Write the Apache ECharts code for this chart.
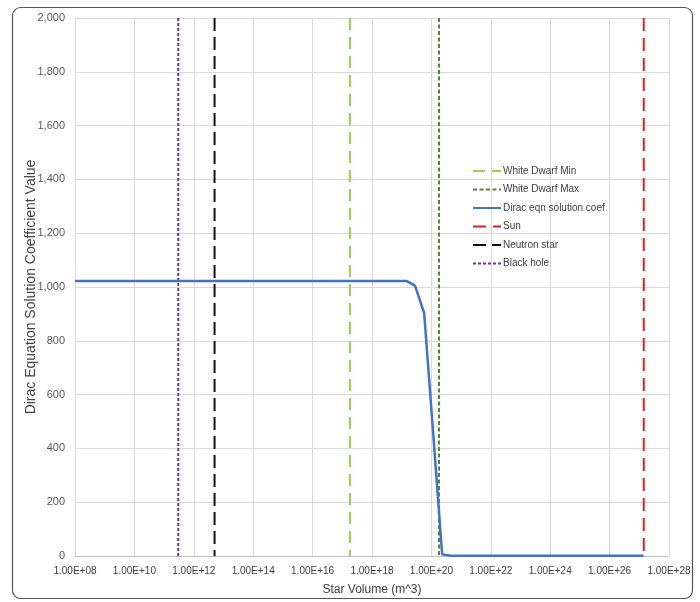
<!DOCTYPE html>
<html><head><meta charset="utf-8">
<script src="https://cdn.jsdelivr.net/npm/echarts@6/dist/echarts.min.js"></script>
<style>html,body{margin:0;padding:0;background:#fff}#c{width:700px;height:602px}</style>
</head><body><div id="c"></div>
<script>
// Dirac curve: star volume (m^3) and coefficient value
const diracVolumes = [1e8, 1.5e19, 2.8e19, 5.7e19, 1.15e20, 2.3e20, 4.6e20, 1.4e27];
const diracValues  = [1022, 1022, 1005, 904, 455, 6, 1, 1];
// Reference volumes (vertical markers)
const whiteDwarfMin = 1.8e17;
const whiteDwarfMax = 1.8e20;
const sunVolume = 1.41e27;
const neutronStarVolume = 5e12;
const blackHoleVolume = 3e11;
const yRange = [2000, 0];
const xTickExponents = [8,10,12,14,16,18,20,22,24,26,28];

const lg = v => Math.log10(v);
const vline = (name, vol, color, dash, width) => ({
  name, type: 'line', symbol: 'none', silent: true,
  data: yRange.map(y => [lg(vol), y]),
  lineStyle: {color, type: dash, width: width || 2},
  itemStyle: {color}
});
const font = 'Liberation Sans, Arial, sans-serif';
const chart = echarts.init(document.getElementById('c'));
chart.setOption({
  animation: false,
  backgroundColor: '#fff',
  graphic: [{type:'rect', shape:{x:12.5,y:7.5,width:680,height:591,r:8}, style:{fill:'none', stroke:'#555', lineWidth:1.2}, z:-1}],
  grid: {left: 75, right: 31, top: 18, bottom: 46},
  legend: {
    orient: 'vertical', left: 467, top: 161, itemGap: 8.5, itemWidth: 28, itemHeight: 11,
    itemStyle: {opacity: 0},
    textStyle: {fontFamily: font, fontSize: 10, color: '#404040', padding:[0,0,0,-3]},
    data: ['White Dwarf Min','White Dwarf Max','Dirac eqn solution coef','Sun','Neutron star','Black hole']
  },
  xAxis: {
    type: 'value', min: 8, max: 28, interval: 2,
    name: 'Star Volume (m^3)', nameLocation: 'middle', nameGap: 28, nameMoveOverlap: false,
    nameTextStyle: {fontFamily: font, fontSize: 12, color: '#404040'},
    axisLine: {show: true, lineStyle: {color: '#bfbfbf'}},
    axisTick: {show: false},
    axisLabel: {fontFamily: font, fontSize: 10, color: '#404040', margin: 10,
      formatter: v => xTickExponents.includes(v) ? '1.00E+' + String(v).padStart(2,'0') : ''},
    splitLine: {show: true, lineStyle: {color: '#d9d9d9'}}
  },
  yAxis: {
    type: 'value', min: 0, max: 2000, interval: 200,
    name: 'Dirac Equation Solution Coefficient Value', nameLocation: 'middle', nameGap: 37, nameMoveOverlap: false,
    nameTextStyle: {fontFamily: font, fontSize: 14, color: '#404040'},
    axisLine: {show: false}, axisTick: {show: false},
    axisLabel: {fontFamily: font, fontSize: 11, color: '#595959', margin: 10,
      formatter: v => v.toLocaleString('en-US')},
    splitLine: {lineStyle: {color: '#d9d9d9'}}
  },
  series: [
    vline('White Dwarf Min', whiteDwarfMin, '#92D050', [12,7], 2),
    vline('White Dwarf Max', whiteDwarfMax, '#548235', [4,2.5], 2),
    {name: 'Dirac eqn solution coef', type: 'line', symbol: 'none', z: 5,
     data: diracVolumes.map((v,i) => [lg(v), diracValues[i]]),
     lineStyle: {color: '#4472C4', width: 2.5}, itemStyle: {color: '#4472C4'}},
    vline('Sun', sunVolume, '#E02020', [13,7], 2),
    vline('Neutron star', neutronStarVolume, '#111', [13,6], 2),
    vline('Black hole', blackHoleVolume, '#7030A0', [3,2], 2)
  ]
});
</script></body></html>
